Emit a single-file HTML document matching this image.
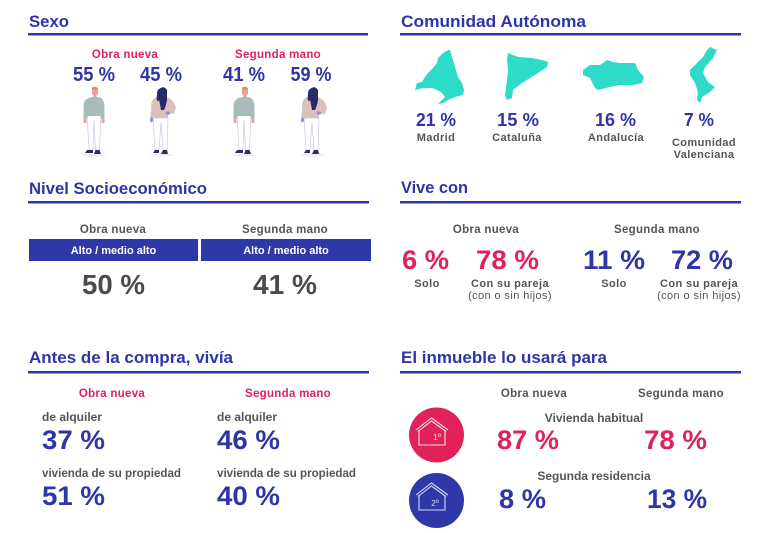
<!DOCTYPE html>
<html>
<head>
<meta charset="utf-8">
<style>
html,body{margin:0;padding:0;background:#fff;}
svg{display:block;}
text{font-family:"Liberation Sans",sans-serif;font-weight:bold;}
.t{fill:#2e35a6;font-size:17px;}
.pk{fill:#e0215a;}
.bl{fill:#2e35a6;}
.gr{fill:#555;}
.lab{font-size:11.5px;letter-spacing:0.3px;}
.sm{font-size:11px;letter-spacing:0.4px;}
</style>
</head>
<body>
<svg width="768" height="533" viewBox="0 0 768 533" xmlns="http://www.w3.org/2000/svg">
<rect width="768" height="533" fill="#fff"/>

<!-- Titles -->
<text class="t" x="29" y="27" textLength="40" lengthAdjust="spacingAndGlyphs">Sexo</text>
<text class="t" x="401" y="27" textLength="185" lengthAdjust="spacingAndGlyphs">Comunidad Autónoma</text>
<text class="t" x="29" y="194" textLength="178" lengthAdjust="spacingAndGlyphs">Nivel Socioeconómico</text>
<text class="t" x="401" y="193" textLength="67" lengthAdjust="spacingAndGlyphs">Vive con</text>
<text class="t" x="29" y="363" textLength="204" lengthAdjust="spacingAndGlyphs">Antes de la compra, vivía</text>
<text class="t" x="401" y="363" textLength="206" lengthAdjust="spacingAndGlyphs">El inmueble lo usará para</text>

<rect x="28" y="33" width="340" height="2.5" fill="#2e35a6"/>
<rect x="400" y="33" width="341" height="2.5" fill="#2e35a6"/>
<rect x="28" y="201" width="341" height="2.5" fill="#2e35a6"/>
<rect x="400" y="201" width="341" height="2.5" fill="#2e35a6"/>
<rect x="28" y="371" width="341" height="2.5" fill="#2e35a6"/>
<rect x="400" y="371" width="341" height="2.5" fill="#2e35a6"/>

<!-- SEXO -->
<text class="pk lab" x="125" y="58" text-anchor="middle">Obra nueva</text>
<text class="pk lab" x="278" y="58" text-anchor="middle">Segunda mano</text>
<text class="bl" x="94" y="81" font-size="20" text-anchor="middle" textLength="42" lengthAdjust="spacingAndGlyphs">55 %</text>
<text class="bl" x="161" y="81" font-size="20" text-anchor="middle" textLength="42" lengthAdjust="spacingAndGlyphs">45 %</text>
<text class="bl" x="244" y="81" font-size="20" text-anchor="middle" textLength="42" lengthAdjust="spacingAndGlyphs">41 %</text>
<text class="bl" x="311" y="81" font-size="20" text-anchor="middle" textLength="41" lengthAdjust="spacingAndGlyphs">59 %</text>

<defs>
<g id="man">
  <ellipse cx="0" cy="155" rx="12" ry="1.5" fill="#eeeef3"/>
  <ellipse cx="1" cy="91.5" rx="3.2" ry="4.6" fill="#e9a291"/>
  <path d="M-2,87.5 Q1,85.5 4,88 L3.5,90 Q1,88.5 -2,89.5 Z" fill="#d98a7a"/>
  <rect x="-0.5" y="95" width="3" height="3" fill="#e9a291"/>
  <path d="M-7,112 L-5,150 L-1,150 L0,120 L1.5,150 L5.5,150 L7,112 Z" fill="#fff" stroke="#c8cbe0" stroke-width="0.7"/>
  <path d="M-4,97.5 Q1,96 6,97.5 Q10,99 10.5,106 L10.5,119 L7,119 L7,116 L-7,116 L-7,119 L-10.5,119 L-10.5,106 Q-10,99 -4,97.5 Z" fill="#a8bcbc"/>
  <rect x="-10.5" y="119" width="3" height="4" rx="1" fill="#e9a291"/>
  <rect x="7.5" y="119" width="3" height="4" rx="1" fill="#e9a291"/>
  <path d="M-7,150 L-1,150 L-1,153 L-9,153 Z" fill="#2b2f5a"/>
  <path d="M1.5,150 L5.5,150 L7,154 L0,154 Z" fill="#2b2f5a"/>
</g>
<g id="woman">
  <ellipse cx="0" cy="155" rx="12" ry="1.5" fill="#eeeef3"/>
  <path d="M-9,118 L-7,150 L-3,150 L-1,122 L1,150 L5,150 L6,118 Z" fill="#fff" stroke="#c8cbe0" stroke-width="0.7"/>
  <path d="M-6,97 Q-1,95 4,97 Q12,99 14,108 L12,114 L6,113 L6,118 L-9,118 L-11,106 Q-10,98 -6,97 Z" fill="#d8c2bb"/>
  <path d="M-10,104 L-12,118 L-9,119 L-7,106 Z" fill="#d8c2bb"/>
  <ellipse cx="-10.5" cy="120" rx="1.5" ry="2.5" fill="#8c8fd9"/>
  <ellipse cx="6" cy="113" rx="2.2" ry="1.6" fill="#8c8fd9"/>
  <path d="M-3,89 Q2,85 5,90 L5,100 Q4,106 2,110 L-1,110 Q-2,104 -3,100 Q-6,104 -5,94 Q-5,90 -3,89 Z" fill="#262a66"/>
  <path d="M-7,150 L-3,150 L-3,153 L-9,153 Z" fill="#2b2f5a"/>
  <path d="M1,150 L5,150 L6,154 L-1,154 Z" fill="#2b2f5a"/>
</g>
</defs>
<use href="#man" x="94" y="0"/>
<use href="#woman" x="162" y="0"/>
<use href="#man" x="244" y="0"/>
<use href="#woman" x="313" y="0"/>

<!-- COMUNIDAD -->
<g fill="#2edbc8">
  <polygon points="448,50 450,50 452,57 455,67 458,77 462,83 464,90 463,95 455,97 448,100 443,103 438,104 440,102 445,97 442,93 437,90 432,88 423,88 415,90 417,83 422,82 425,77 428,73 433,68 437,63 438,58 443,53"/>
  <polygon points="508,53 518,57 532,58 542,60 548,62 547,67 535,75 522,83 513,90 512,98 507,100 505,95 507,80 508,70 507,60"/>
  <polygon points="583,70 590,65 600,65 607,60 613,62 620,63 635,63 638,70 644,77 642,83 633,85 620,85 610,87 598,90 595,88 590,78 583,75"/>
  <polygon points="710,47 717,50 713,58 705,67 703,73 708,82 715,87 710,92 702,97 700,103 697,100 698,92 695,83 690,75 690,70 695,65 703,57 707,50"/>
</g>
<text class="bl" x="436" y="126" font-size="18" text-anchor="middle" textLength="40" lengthAdjust="spacingAndGlyphs">21 %</text>
<text class="bl" x="518" y="126" font-size="18" text-anchor="middle" textLength="42" lengthAdjust="spacingAndGlyphs">15 %</text>
<text class="bl" x="615.5" y="126" font-size="18" text-anchor="middle" textLength="41" lengthAdjust="spacingAndGlyphs">16 %</text>
<text class="bl" x="699" y="126" font-size="18" text-anchor="middle" textLength="30" lengthAdjust="spacingAndGlyphs">7 %</text>
<text class="gr sm" x="436" y="141" text-anchor="middle">Madrid</text>
<text class="gr sm" x="517" y="141" text-anchor="middle">Cataluña</text>
<text class="gr sm" x="616" y="141" text-anchor="middle">Andalucía</text>
<text class="gr sm" x="704" y="146" text-anchor="middle">Comunidad</text>
<text class="gr sm" x="704" y="158" text-anchor="middle">Valenciana</text>

<!-- NIVEL -->
<text class="gr lab" x="113" y="233" text-anchor="middle">Obra nueva</text>
<text class="gr lab" x="285" y="233" text-anchor="middle">Segunda mano</text>
<rect x="29" y="239" width="169" height="22" fill="#2f38a8"/>
<rect x="201" y="239" width="170" height="22" fill="#2f38a8"/>
<text x="113.5" y="254" font-size="11" fill="#fff" text-anchor="middle">Alto / medio alto</text>
<text x="286" y="254" font-size="11" fill="#fff" text-anchor="middle">Alto / medio alto</text>
<text x="113.5" y="294" font-size="28" fill="#4b4b4b" text-anchor="middle" textLength="63" lengthAdjust="spacingAndGlyphs">50 %</text>
<text x="285" y="294" font-size="28" fill="#4b4b4b" text-anchor="middle" textLength="64" lengthAdjust="spacingAndGlyphs">41 %</text>

<!-- VIVE CON -->
<text class="gr lab" x="486" y="233" text-anchor="middle">Obra nueva</text>
<text class="gr lab" x="657" y="233" text-anchor="middle">Segunda mano</text>
<text class="pk" x="425.5" y="269" font-size="27" text-anchor="middle" textLength="47" lengthAdjust="spacingAndGlyphs">6 %</text>
<text class="pk" x="507.5" y="269" font-size="27" text-anchor="middle" textLength="63" lengthAdjust="spacingAndGlyphs">78 %</text>
<text class="bl" x="614" y="269" font-size="27" text-anchor="middle" textLength="62" lengthAdjust="spacingAndGlyphs">11 %</text>
<text class="bl" x="702" y="269" font-size="27" text-anchor="middle" textLength="62" lengthAdjust="spacingAndGlyphs">72 %</text>
<text class="gr sm" x="427" y="287" text-anchor="middle">Solo</text>
<text class="gr sm" x="510" y="287" text-anchor="middle">Con su pareja</text>
<text class="gr sm" x="510" y="299" text-anchor="middle" style="font-weight:normal">(con o sin hijos)</text>
<text class="gr sm" x="614" y="287" text-anchor="middle">Solo</text>
<text class="gr sm" x="699" y="287" text-anchor="middle">Con su pareja</text>
<text class="gr sm" x="699" y="299" text-anchor="middle" style="font-weight:normal">(con o sin hijos)</text>

<!-- ANTES -->
<text class="pk lab" x="112" y="397" text-anchor="middle">Obra nueva</text>
<text class="pk lab" x="288" y="397" text-anchor="middle">Segunda mano</text>
<text class="gr" x="42" y="421" font-size="12">de alquiler</text>
<text class="bl" x="42" y="449" font-size="27" textLength="63" lengthAdjust="spacingAndGlyphs">37 %</text>
<text class="gr" x="42" y="477" font-size="12" textLength="139" lengthAdjust="spacingAndGlyphs">vivienda de su propiedad</text>
<text class="bl" x="42" y="505" font-size="27" textLength="63" lengthAdjust="spacingAndGlyphs">51 %</text>
<text class="gr" x="217" y="421" font-size="12">de alquiler</text>
<text class="bl" x="217" y="449" font-size="27" textLength="63" lengthAdjust="spacingAndGlyphs">46 %</text>
<text class="gr" x="217" y="477" font-size="12" textLength="139" lengthAdjust="spacingAndGlyphs">vivienda de su propiedad</text>
<text class="bl" x="217" y="505" font-size="27" textLength="63" lengthAdjust="spacingAndGlyphs">40 %</text>

<!-- EL INMUEBLE -->
<text class="gr lab" x="534" y="397" text-anchor="middle">Obra nueva</text>
<text class="gr lab" x="681" y="397" text-anchor="middle">Segunda mano</text>
<circle cx="436.5" cy="435" r="27.5" fill="#e0215a"/>
<circle cx="436.5" cy="500.5" r="27.5" fill="#2f38a8"/>
<g fill="none" stroke="#f8dde6" stroke-width="1.1">
  <polyline points="416,430 431.5,418 448,430"/>
  <polyline points="418,431.5 431.5,421 446,431.5"/>
  <polyline points="419,430 419,445 445,445 445,430"/>
</g>
<text x="437" y="440" font-size="8.5" fill="#f8dde6" text-anchor="middle" style="font-weight:normal">1º</text>
<g fill="none" stroke="#d3d6f5" stroke-width="1.1">
  <polyline points="416,495 431.5,483 448,495"/>
  <polyline points="418,496.5 431.5,486 446,496.5"/>
  <polyline points="419,495 419,510 445,510 445,495"/>
</g>
<text x="435" y="506" font-size="8.5" fill="#d3d6f5" text-anchor="middle" style="font-weight:normal">2º</text>
<text class="gr" x="594" y="422" font-size="12" text-anchor="middle">Vivienda habitual</text>
<text class="pk" x="497" y="449" font-size="27" textLength="62" lengthAdjust="spacingAndGlyphs">87 %</text>
<text class="pk" x="644" y="449" font-size="27" textLength="63" lengthAdjust="spacingAndGlyphs">78 %</text>
<text class="gr" x="594" y="480" font-size="12" text-anchor="middle">Segunda residencia</text>
<text class="bl" x="499" y="508" font-size="27" textLength="47" lengthAdjust="spacingAndGlyphs">8 %</text>
<text class="bl" x="647" y="508" font-size="27" textLength="60" lengthAdjust="spacingAndGlyphs">13 %</text>
</svg>
</body>
</html>
